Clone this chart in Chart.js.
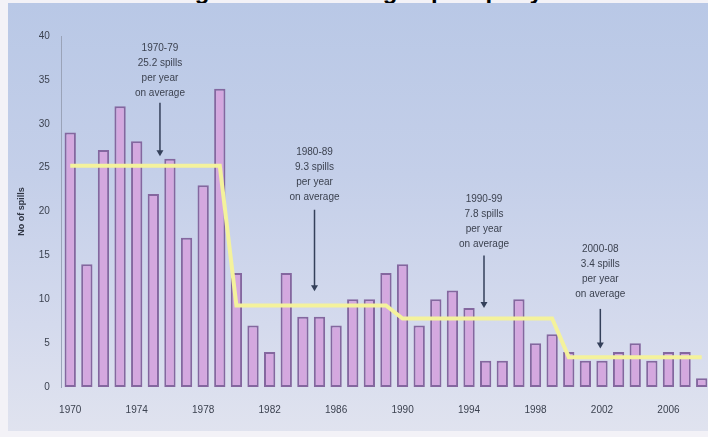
<!DOCTYPE html>
<html>
<head>
<meta charset="utf-8">
<script src="https://cdn.jsdelivr.net/npm/chart.js@4.4.1/dist/chart.umd.min.js"></script>
<style>
  body { margin: 0; width: 708px; height: 437px; overflow: hidden; position: relative; background: #f3f2f7; }
  #title { position: absolute; top: -21px; left: 0; width: 708px; text-align: center;
           font: bold 24px "Liberation Sans", Arial, sans-serif; line-height: 24px; color: #000; white-space: nowrap; }
  #panel { position: absolute; left: 8px; top: 3px; width: 712px; height: 428px;
           background: linear-gradient(to bottom, #b9c8e6 0%, #c4cfe9 40%, #d4daed 75%, #e0e3ef 100%); }
</style>
</head>
<body>
<div id="title">Average number of large spills per year</div>
<div id="panel"><canvas id="spillsChart"></canvas></div>
<script>
var years = ['1970','1971','1972','1973','1974','1975','1976','1977','1978','1979',
             '1980','1981','1982','1983','1984','1985','1986','1987','1988','1989',
             '1990','1991','1992','1993','1994','1995','1996','1997','1998','1999',
             '2000','2001','2002','2003','2004','2005','2006','2007','2008'];
var spills = [29,14,27,32,28,22,26,17,23,34,
              13,7,4,13,8,8,7,10,10,13,
              14,7,10,11,9,3,3,10,5,6,
              4,3,3,4,5,3,4,4,1];
var periods = ['1970-79','1980-89','1990-99','2000-08'];
var periodStart = [1970, 1980, 1990, 2000];
var periodAverages = [25.2, 9.3, 7.8, 3.4];
var yTicks = [0,5,10,15,20,25,30,35,40];

// each year carries the average of its period
var averageLine = years.map(function(y) {
	var p = 0;
	for (var i = 0; i < periodStart.length; i++) {
		if (+y >= periodStart[i]) p = i;
	}
	return periodAverages[p];
});

// callouts: text block + arrow, positioned in axis units (category index, value)
var calloutPos = [
	{ x: 5.4,  textY: 38.6, arrowFrom: 32.4, arrowTo: 26.3 },
	{ x: 14.7, textY: 26.7, arrowFrom: 20.2, arrowTo: 10.9 },
	{ x: 24.9, textY: 21.4, arrowFrom: 15.0, arrowTo: 9.0 },
	{ x: 31.9, textY: 15.7, arrowFrom: 8.9,  arrowTo: 4.4 }
];

var callouts = {
	id: 'callouts',
	afterDatasetsDraw: function(chart) {
		var ctx = chart.ctx, xs = chart.scales.x, ys = chart.scales.y;
		ctx.save();
		ctx.font = '10px "Liberation Sans", Arial, sans-serif';
		ctx.textAlign = 'center';
		ctx.textBaseline = 'middle';
		for (var i = 0; i < calloutPos.length; i++) {
			var c = calloutPos[i];
			var px = xs.getPixelForValue(c.x);
			var py = ys.getPixelForValue(c.textY);
			var lines = [periods[i], periodAverages[i] + ' spills', 'per year', 'on average'];
			ctx.fillStyle = '#3c4250';
			for (var j = 0; j < lines.length; j++) {
				ctx.fillText(lines[j], px, py + j * 15);
			}
			var y0 = ys.getPixelForValue(c.arrowFrom), y1 = ys.getPixelForValue(c.arrowTo);
			ctx.strokeStyle = '#34405a';
			ctx.lineWidth = 1.5;
			ctx.beginPath();
			ctx.moveTo(px, y0);
			ctx.lineTo(px, y1 - 5);
			ctx.stroke();
			ctx.fillStyle = '#34405a';
			ctx.beginPath();
			ctx.moveTo(px - 3.5, y1 - 6);
			ctx.lineTo(px + 3.5, y1 - 6);
			ctx.lineTo(px, y1);
			ctx.closePath();
			ctx.fill();
		}
		ctx.restore();
	}
};

var ctx1 = document.getElementById('spillsChart');

var chart1 = new Chart(ctx1, {
	type: 'bar',
	data: {
		labels: years,
		datasets: [
			{
				type: 'line',
				label: 'Period average',
				data: averageLine,
				borderColor: '#f4f29c',
				borderWidth: 4,
				pointRadius: 0,
				tension: 0,
				order: 0
			},
			{
				label: 'Spills',
				data: spills,
				backgroundColor: '#d4a8df',
				borderColor: '#84679f',
				borderWidth: 2,
				borderSkipped: false,
				categoryPercentage: 1,
				barPercentage: 0.68,
				order: 1
			}
		]
	},
	options: {
		responsive: true,
		maintainAspectRatio: false,
		animation: false,
		layout: { padding: { top: 33, right: 10, left: 8, bottom: 6 } },
		plugins: {
			legend: { display: false },
			tooltip: { enabled: false }
		},
		scales: {
			x: {
				grid: { display: false },
				border: { display: false },
				ticks: {
					autoSkip: false,
					maxRotation: 0,
					padding: 9,
					color: '#3c4250',
					font: { size: 10, family: '"Liberation Sans", Arial, sans-serif' },
					callback: function(v, i) {
						return ((+years[i] - 1970) % 4 === 0) ? years[i] : '';
					}
				}
			},
			y: {
				min: 0,
				max: 40,
				afterBuildTicks: function(axis) {
					axis.ticks = yTicks.map(function(v) { return { value: v }; });
				},
				grid: { display: false, drawTicks: false },
				border: { display: true, color: '#9aa3b8', width: 1 },
				ticks: {
					padding: 12,
					color: '#3c4250',
					font: { size: 10, family: '"Liberation Sans", Arial, sans-serif' }
				},
				title: {
					display: true,
					text: 'No of spills',
					color: '#2e3442',
					padding: { top: 0, bottom: 0 },
					font: { size: 9, weight: 'bold', family: '"Liberation Sans", Arial, sans-serif' }
				}
			}
		}
	},
	plugins: [callouts]
});
</script>
</body>
</html>
